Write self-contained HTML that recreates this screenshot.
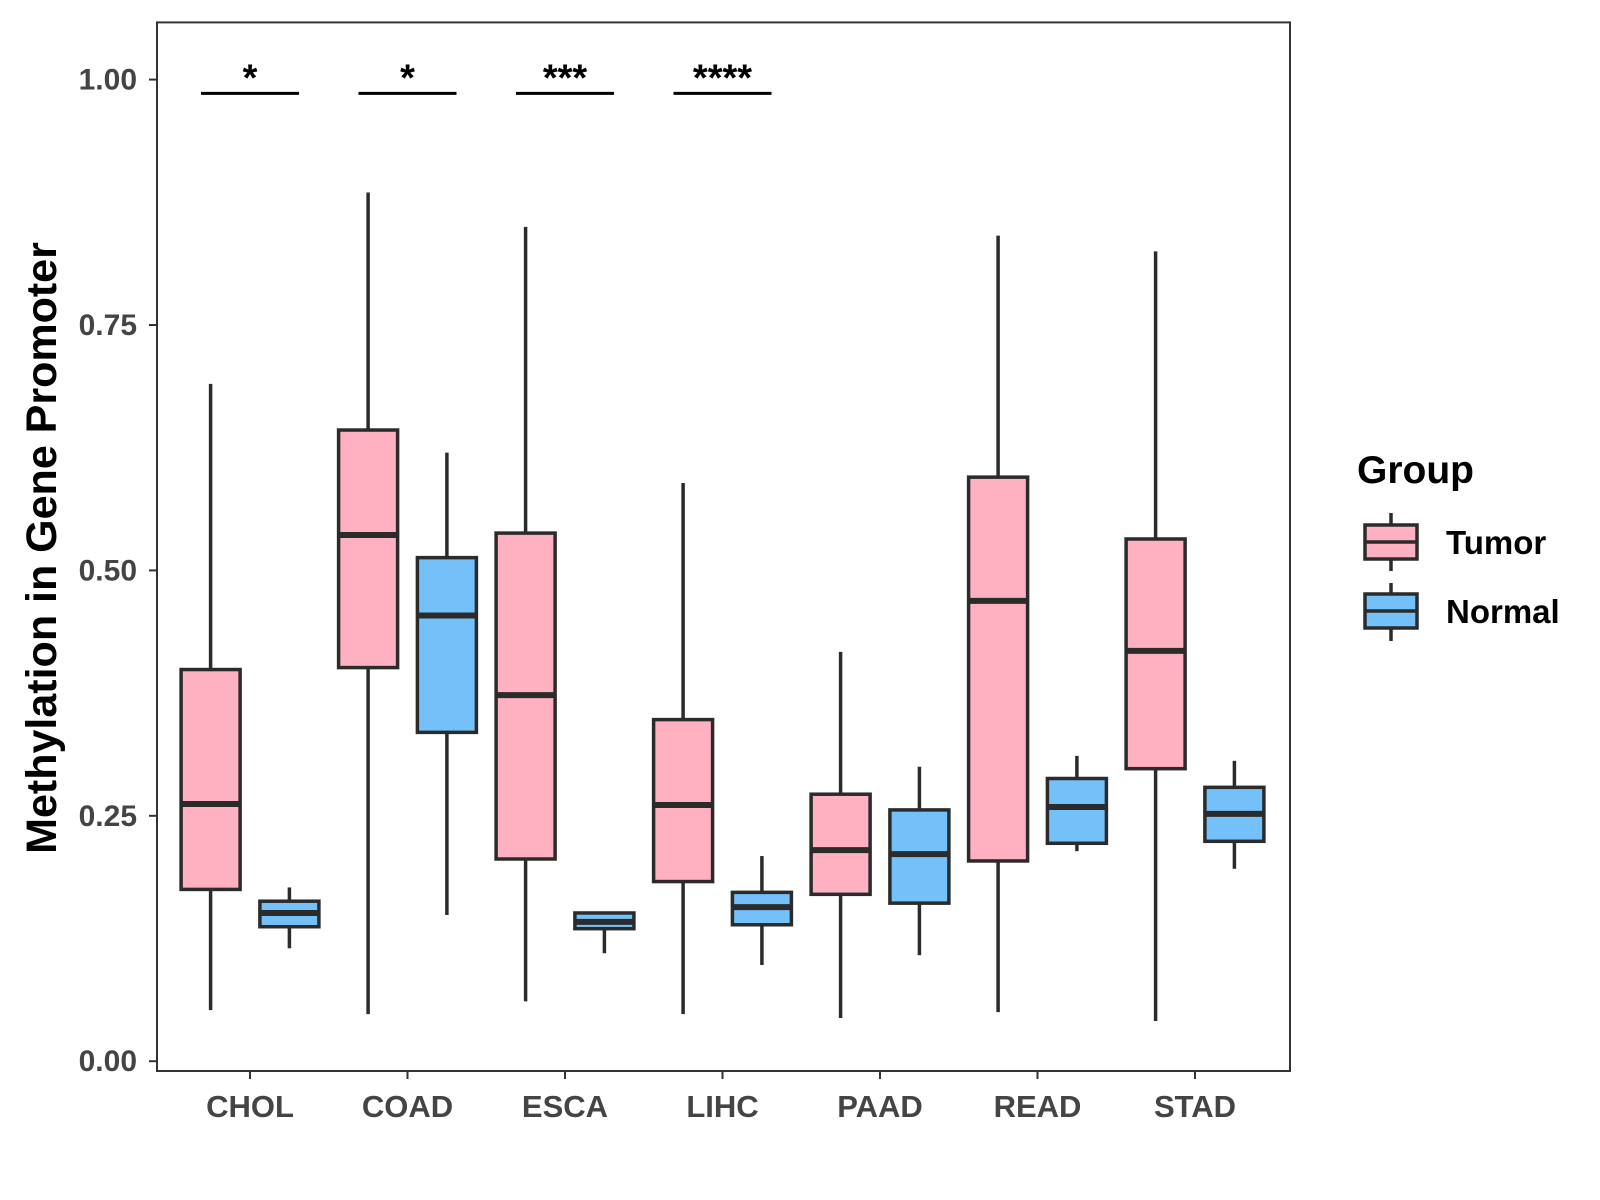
<!DOCTYPE html>
<html><head><meta charset="utf-8"><style>
body{margin:0;background:#fff}
svg{display:block;font-family:"Liberation Sans",sans-serif;font-weight:bold}
</style></head><body>
<svg id="chart" width="1600" height="1200">
<rect x="157" y="22.4" width="1133" height="1048.6" fill="none" stroke="#333" stroke-width="2"/>
<g id="yaxis"></g>
<g id="xaxis"></g>
<g id="boxes"></g>
<g id="sig"></g>
<text x="56" y="548" transform="rotate(-90 56 548)" text-anchor="middle" font-size="43" fill="#000">Methylation in Gene Promoter</text>
<g>
<text x="1357" y="483" font-size="39" fill="#000">Group</text>
<g>
<line x1="1391" y1="513" x2="1391" y2="571" stroke="#2b2b2b" stroke-width="3.5"/>
<rect x="1365" y="525" width="52" height="34" fill="#FFB0C1" stroke="#2b2b2b" stroke-width="3.5"/>
<line x1="1365" y1="542" x2="1417" y2="542" stroke="#2b2b2b" stroke-width="3.5"/>
<text x="1446" y="554" font-size="33" fill="#000">Tumor</text>
</g>
<g>
<line x1="1391" y1="583" x2="1391" y2="641" stroke="#2b2b2b" stroke-width="3.5"/>
<rect x="1365" y="594" width="52" height="34" fill="#74C0F8" stroke="#2b2b2b" stroke-width="3.5"/>
<line x1="1365" y1="611" x2="1417" y2="611" stroke="#2b2b2b" stroke-width="3.5"/>
<text x="1446" y="623" font-size="33" fill="#000">Normal</text>
</g>
</g>
</svg>
<script>
const categories=["CHOL","COAD","ESCA","LIHC","PAAD","READ","STAD"];
// [lower whisker, Q1, median, Q3, upper whisker]
const tumorStats=[[0.052,0.175,0.262,0.399,0.69],[0.048,0.401,0.536,0.643,0.885],[0.061,0.206,0.373,0.538,0.85],[0.048,0.183,0.261,0.348,0.589],[0.044,0.170,0.215,0.272,0.417],[0.050,0.204,0.469,0.595,0.841],[0.041,0.298,0.418,0.532,0.825]];
const normalStats=[[0.115,0.137,0.151,0.163,0.177],[0.149,0.335,0.454,0.513,0.62],[0.110,0.135,0.142,0.151,0.151],[0.098,0.139,0.157,0.172,0.209],[0.108,0.161,0.211,0.256,0.300],[0.214,0.222,0.259,0.288,0.311],[0.196,0.224,0.252,0.279,0.306]];
const yTicks=[0,0.25,0.5,0.75,1.0];
const yTickLabels=["0.00","0.25","0.50","0.75","1.00"];
const sigLabels=["*","*","***","****"];
const sigLevel=0.986;

const NS="http://www.w3.org/2000/svg";
const y=v=>1061.2-v*981.6;
const x=i=>250+i*157.5;
function mk(tag,attrs,parent,text){const e=document.createElementNS(NS,tag);for(const k in attrs)e.setAttribute(k,attrs[k]);if(text!==undefined)e.textContent=text;parent.appendChild(e);return e;}
const ya=document.getElementById('yaxis'),xa=document.getElementById('xaxis'),bx=document.getElementById('boxes'),sg=document.getElementById('sig');
yTicks.forEach((v,i)=>{
  const l=mk('line',{x1:149,x2:157,y1:y(v),y2:y(v),stroke:'#333','stroke-width':2},ya);
  
  
  const t=mk('text',{x:137,y:y(v)+10,'text-anchor':'end','font-size':30,fill:'#444'},ya,yTickLabels[i]);
  
  
});
categories.forEach((c,i)=>{
  const l=mk('line',{x1:x(i),x2:x(i),y1:1071,y2:1079,stroke:'#333','stroke-width':2},xa);
  
  
  const t=mk('text',{x:x(i),y:1117,'text-anchor':'middle','font-size':31,fill:'#444'},xa,c);
  
  
});
function box(cx,s,fill,name){
  const g=mk('g',{},bx);
  
  
  const w=59,st={stroke:'#2b2b2b','stroke-width':3.5};
  mk('line',Object.assign({x1:cx,x2:cx,y1:y(s[0]),y2:y(s[1])},st),g);
  mk('line',Object.assign({x1:cx,x2:cx,y1:y(s[3]),y2:y(s[4])},st),g);
  mk('rect',Object.assign({x:cx-w/2,y:y(s[3]),width:w,height:y(s[1])-y(s[3]),fill:fill},st),g);
  mk('line',{x1:cx-w/2,x2:cx+w/2,y1:y(s[2]),y2:y(s[2]),stroke:'#2b2b2b','stroke-width':6},g);
}
categories.forEach((c,i)=>{
  box(x(i)-39.4,tumorStats[i],'#FFB0C1','box-'+c.toLowerCase()+'-tumor');
  box(x(i)+39.4,normalStats[i],'#74C0F8','box-'+c.toLowerCase()+'-normal');
});
sigLabels.forEach((s,i)=>{
  const l=mk('line',{x1:x(i)-49,x2:x(i)+49,y1:y(sigLevel),y2:y(sigLevel),stroke:'#000','stroke-width':3},sg);
  
  
  const t=mk('text',{x:x(i),y:y(sigLevel)-3,'text-anchor':'middle','font-size':38,fill:'#000'},sg,s);
  
  
});
</script>
</body></html>
